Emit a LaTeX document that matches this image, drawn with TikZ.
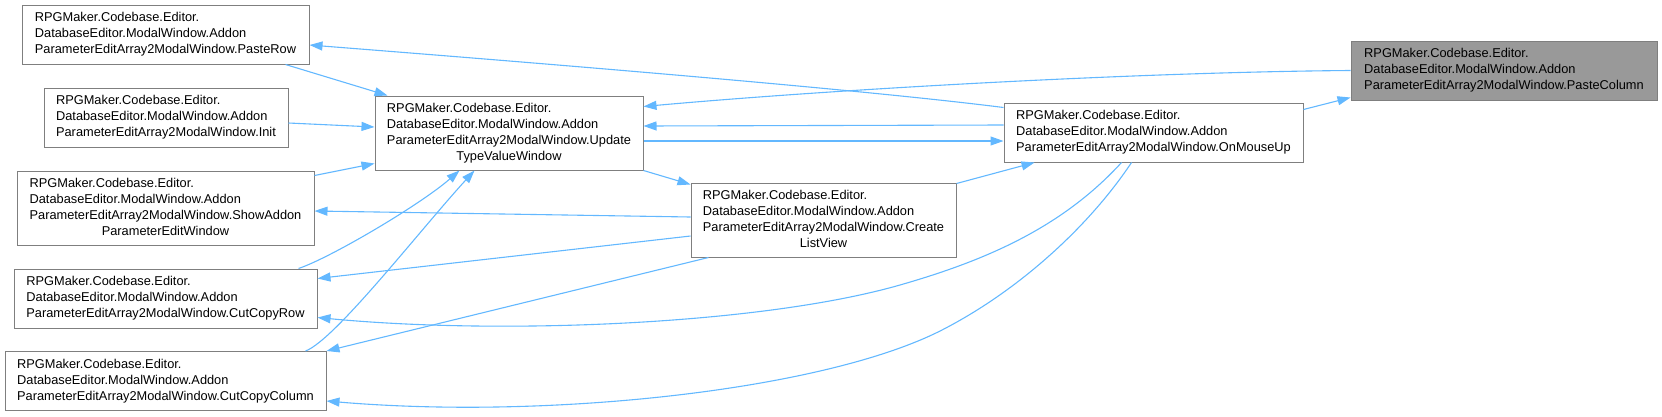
\documentclass[tikz,border=0pt]{standalone}
\usepackage{fontspec}
\newfontfamily\fnfamily{Liberation Sans}
\usetikzlibrary{arrows.meta, calc}

\definecolor{edgeblue}{HTML}{63B8FF}
\definecolor{boxgray}{HTML}{7F7F7F}
\definecolor{hilite}{HTML}{999999}

% label: left-aligned lines, last line centred
\newcommand{\calltext}[2]{\begin{tabular}{@{}l@{}}#1\\\multicolumn{1}{@{}c@{}}{#2}\end{tabular}}

\begin{document}
\begin{tikzpicture}[
  x=1pt, y=-1pt,
  fn/.style   = {rectangle, draw=boxgray, line width=1pt, fill=white,
                 inner sep=0pt, minimum width=#1, minimum height=59pt,
                 font=\fnfamily\fontsize{12.8}{16}\selectfont},
  tall/.style = {minimum height=74pt},
  call/.style = {-{Triangle[length=13pt, width=9pt]}, draw=edgeblue, line width=1.1pt},
]
\useasboundingbox (0,0) rectangle (1662,416);

% ── Callers (left column) ─────────────────────────────────────────────────────
\node[fn=287pt] (pasterow) at (165.5,34.5)
  {\calltext{RPGMaker.Codebase.Editor.\\DatabaseEditor.ModalWindow.Addon}{ParameterEditArray2ModalWindow.PasteRow}};
\node[fn=244pt] (init) at (166,117.5)
  {\calltext{RPGMaker.Codebase.Editor.\\DatabaseEditor.ModalWindow.Addon}{ParameterEditArray2ModalWindow.Init}};
\node[fn=297pt, tall] (showaddon) at (165.5,208)
  {\calltext{RPGMaker.Codebase.Editor.\\DatabaseEditor.ModalWindow.Addon\\ParameterEditArray2ModalWindow.ShowAddon}{ParameterEditWindow}};
\node[fn=303pt] (cutrow) at (165.5,298.5)
  {\calltext{RPGMaker.Codebase.Editor.\\DatabaseEditor.ModalWindow.Addon}{ParameterEditArray2ModalWindow.CutCopyRow}};
\node[fn=321pt] (cutcol) at (165.5,381)
  {\calltext{RPGMaker.Codebase.Editor.\\DatabaseEditor.ModalWindow.Addon}{ParameterEditArray2ModalWindow.CutCopyColumn}};

% ── Middle ────────────────────────────────────────────────────────────────────
\node[fn=268pt, tall] (update) at (509,133)
  {\calltext{RPGMaker.Codebase.Editor.\\DatabaseEditor.ModalWindow.Addon\\ParameterEditArray2ModalWindow.Update}{TypeValueWindow}};
\node[fn=265pt, tall] (listview) at (823.5,220)
  {\calltext{RPGMaker.Codebase.Editor.\\DatabaseEditor.ModalWindow.Addon\\ParameterEditArray2ModalWindow.Create}{ListView}};
\node[fn=299pt] (mouseup) at (1153.5,132.5)
  {\calltext{RPGMaker.Codebase.Editor.\\DatabaseEditor.ModalWindow.Addon}{ParameterEditArray2ModalWindow.OnMouseUp}};

% ── Target ────────────────────────────────────────────────────────────────────
\node[fn=306pt, fill=hilite] (pastecol) at (1504,70.5)
  {\calltext{RPGMaker.Codebase.Editor.\\DatabaseEditor.ModalWindow.Addon}{ParameterEditArray2ModalWindow.PasteColumn}};

% ── Edges ─────────────────────────────────────────────────────────────────────
\draw[call] ($(mouseup.north east)+(0,7)$) -- ($(pastecol.south west)+(0,-3)$);
\draw[call] (pastecol.west) .. controls (1150,72) and (850,88) .. ($(update.north east)+(0,11)$);
\draw[call] ($(mouseup.north west)+(0,5)$) .. controls (850,88) and (500,60) .. ($(pasterow.east)+(0,10.5)$);
\draw[call] ($(pasterow.south east)+(-24,0)$) -- ($(update.north west)+(13,0)$);
\draw[call] ($(init.east)+(0,5.5)$) -- ($(update.west)+(0,-6)$);
\draw[call] ($(showaddon.north east)+(0,5)$) -- ($(update.south west)+(0,-7)$);
\draw[call] ($(cutrow.north east)+(-19,0)$) .. controls (330,258) and (420,205) .. ($(update.south west)+(85,0)$);
\draw[call] ($(cutcol.north east)+(-21,0)$) .. controls (335,340) and (420,230) .. ($(update.south west)+(100,0)$);
\draw[call] ($(update.east)+(0,8)$) -- ($(mouseup.west)+(0,8.5)$);
\draw[call] ($(mouseup.west)+(0,-7.5)$) -- ($(update.east)+(0,-7)$);
\draw[call] (update.south east) -- ($(listview.north west)+(0,2)$);
\draw[call] ($(listview.north east)+(0,1)$) -- ($(mouseup.south west)+(31,0)$);
\draw[call] ($(listview.west)+(0,-3)$) -- ($(showaddon.east)+(0,3)$);
\draw[call] ($(listview.west)+(0,16)$) -- ($(cutrow.north east)+(0,10)$);
\draw[call] ($(listview.south west)+(18,0)$) -- (cutcol.north east);
\draw[call] ($(mouseup.south west)+(118,0)$) .. controls (1060,230) and (980,262) .. (900,285)
  .. controls (760,325) and (500,335) .. ($(cutrow.south east)+(0,-11)$);
\draw[call] ($(mouseup.south west)+(128,0)$) .. controls (1090,225) and (1020,290) .. (942,330)
  .. controls (825,390) and (550,420) .. ($(cutcol.east)+(0,20)$);

\end{tikzpicture}
\end{document}
